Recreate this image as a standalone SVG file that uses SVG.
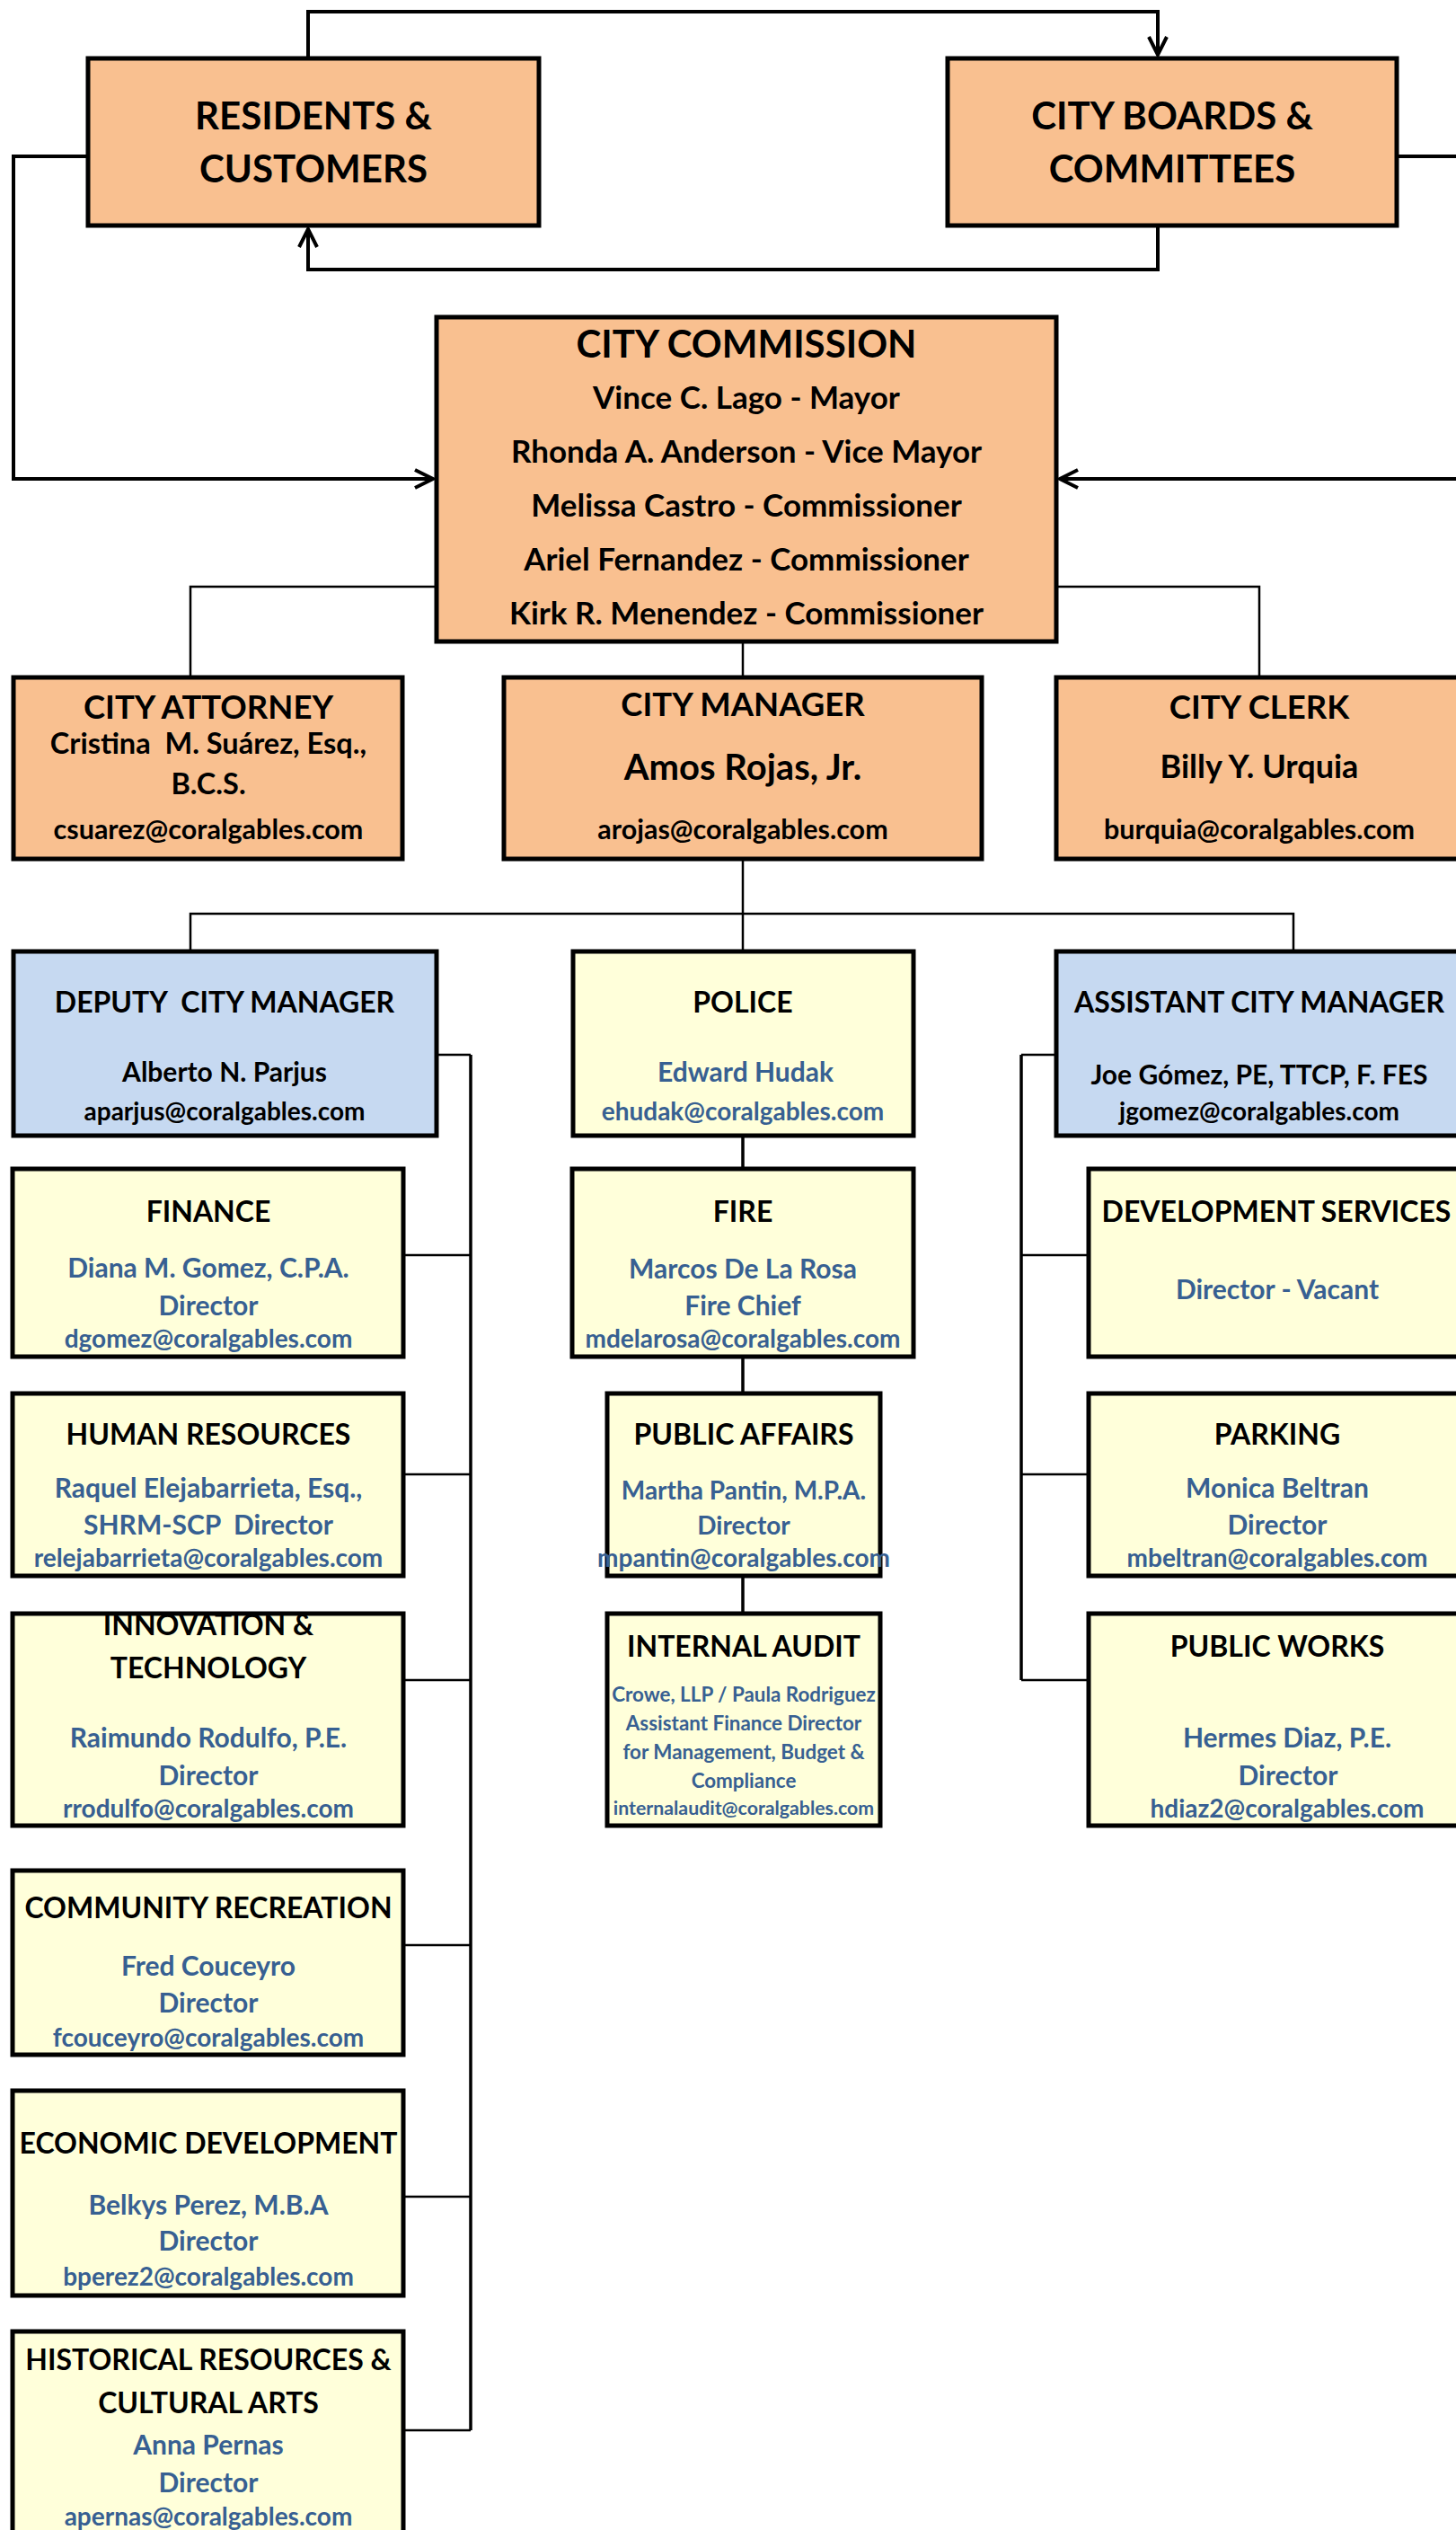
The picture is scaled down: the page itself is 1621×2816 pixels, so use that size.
<svg xmlns="http://www.w3.org/2000/svg" width="1621" height="2816" viewBox="0 0 1621 2816">
<style>
.box{stroke:#000;stroke-width:5}
.o{fill:#F9C090}.b{fill:#C6D9F1}.y{fill:#FFFFDA}
text{font-family:Lato,Carlito,"Liberation Sans",sans-serif;font-weight:bold;text-anchor:middle;fill:#000;white-space:pre}
.u{fill:#376092}
.con{fill:none;stroke:#000;stroke-width:2.5}
.br{fill:none;stroke:#000;stroke-width:3.5}
.arr{fill:none;stroke:#000;stroke-width:4}
.t1{font-size:42px}.t2{font-size:42px}.t3{font-size:35px}.t4{font-size:36.5px}.t5{font-size:32.5px}.t6{font-size:30.5px}.t7{font-size:40px}.t8{font-size:36px}
.h{font-size:32px}.n{font-size:30px}.n2{font-size:28px}.e{font-size:28px}.s{font-size:22.4px}.se{font-size:21.3px}
.d1{font-size:32px}.d2{font-size:30px}.d3{font-size:28px}
</style>
<defs>
<marker id="ah" markerUnits="userSpaceOnUse" viewBox="0 0 24 24" refX="22" refY="12" markerWidth="24" markerHeight="24" orient="auto">
<path d="M2,2 L22,12 L2,22" fill="none" stroke="#000" stroke-width="4"/>
</marker>
<clipPath id="clipInno"><rect x="14" y="1796" width="435" height="236"/></clipPath>
</defs>

<g id="connectors">
<path class="arr" d="M343,64 V13 H1289 V61" marker-end="url(#ah)"/>
<path class="arr" d="M1289,251 V300 H343 V255" marker-end="url(#ah)"/>
<path class="arr" d="M98,174 H15 V533 H482" marker-end="url(#ah)"/>
<path class="arr" d="M1555,174 H1650 V533 H1180" marker-end="url(#ah)"/>
<path class="con" d="M486,653 H212 V754"/>
<path class="con" d="M1176,653 H1402 V754"/>
<path class="con" d="M827,714 V754"/>
<path class="con" d="M827,956 V1059"/>
<path class="con" d="M212,1059 V1017 H1440 V1059"/>
<path class="br" d="M827,1264 V1301 M827,1510 V1551 M827,1754 V1796"/>
<path class="con" d="M486,1174 H524"/>
<path class="br" d="M524,1174 V2705"/>
<path class="con" d="M449,1397 H524 M449,1641 H524 M449,1870 H524 M449,2165 H524 M449,2445 H524 M449,2705 H524"/>
<path class="con" d="M1176,1174 H1137"/>
<path class="br" d="M1137,1174 V1870"/>
<path class="con" d="M1137,1397 H1212 M1137,1641 H1212 M1137,1870 H1212"/>
</g>

<g id="residents">
<rect class="box o" x="98" y="65" width="502" height="186"/>
<text class="t1" x="349" y="144">RESIDENTS &amp;</text>
<text class="t1" x="349" y="203">CUSTOMERS</text>
</g>
<g id="boards">
<rect class="box o" x="1055" y="65" width="500" height="186"/>
<text class="t1" x="1305" y="144">CITY BOARDS &amp;</text>
<text class="t1" x="1305" y="203">COMMITTEES</text>
</g>

<g id="commission">
<rect class="box o" x="486" y="353" width="690" height="361"/>
<text class="t2" x="831" y="398">CITY COMMISSION</text>
<text class="t3" x="831" y="455">Vince C. Lago - Mayor</text>
<text class="t3" x="831" y="515">Rhonda A. Anderson - Vice Mayor</text>
<text class="t3" x="831" y="575">Melissa Castro - Commissioner</text>
<text class="t3" x="831" y="635">Ariel Fernandez - Commissioner</text>
<text class="t3" x="831" y="695">Kirk R. Menendez - Commissioner</text>
</g>

<g id="attorney">
<rect class="box o" x="15" y="754" width="433" height="202"/>
<text class="t4" x="232" y="800">CITY ATTORNEY</text>
<text class="t5" x="232" y="839">Cristina  M. Suárez, Esq.,</text>
<text class="t5" x="232" y="884">B.C.S.</text>
<text class="t6" x="232" y="934">csuarez@coralgables.com</text>
</g>
<g id="manager">
<rect class="box o" x="561" y="754" width="532" height="202"/>
<text class="t4" x="827" y="797">CITY MANAGER</text>
<text class="t7" x="827" y="868">Amos Rojas, Jr.</text>
<text class="t6" x="827" y="934">arojas@coralgables.com</text>
</g>
<g id="clerk">
<rect class="box o" x="1176" y="754" width="480" height="202"/>
<text class="t4" x="1402" y="800">CITY CLERK</text>
<text class="t8" x="1402" y="866">Billy Y. Urquia</text>
<text class="t6" x="1402" y="934">burquia@coralgables.com</text>
</g>

<g id="deputy">
<rect class="box b" x="15" y="1059" width="471" height="205"/>
<text class="d1" x="250" y="1127">DEPUTY  CITY MANAGER</text>
<text class="d2" x="250" y="1204">Alberto N. Parjus</text>
<text class="d3" x="250" y="1247">aparjus@coralgables.com</text>
</g>
<g id="police">
<rect class="box y" x="638" y="1059" width="379" height="205"/>
<text class="d1" x="827" y="1127">POLICE</text>
<text class="d2 u" x="830" y="1204">Edward Hudak</text>
<text class="d3 u" x="827" y="1247">ehudak@coralgables.com</text>
</g>
<g id="assistant">
<rect class="box b" x="1176" y="1059" width="480" height="205"/>
<text class="d1" x="1402" y="1127">ASSISTANT CITY MANAGER</text>
<text class="d2" x="1402" y="1207">Joe Gómez, PE, TTCP, F. FES</text>
<text class="d3" x="1402" y="1247">jgomez@coralgables.com</text>
</g>

<g id="finance">
<rect class="box y" x="14" y="1301" width="435" height="209"/>
<text class="h" x="232" y="1360">FINANCE</text>
<text class="n u" x="232" y="1422">Diana M. Gomez, C.P.A.</text>
<text class="n u" x="232" y="1464">Director</text>
<text class="e u" x="232" y="1500">dgomez@coralgables.com</text>
</g>
<g id="hr">
<rect class="box y" x="14" y="1551" width="435" height="203"/>
<text class="h" x="232" y="1608">HUMAN RESOURCES</text>
<text class="n u" x="232" y="1667">Raquel Elejabarrieta, Esq.,</text>
<text class="n u" x="232" y="1708">SHRM-SCP  Director</text>
<text class="e u" x="232" y="1744">relejabarrieta@coralgables.com</text>
</g>
<g id="innovation">
<rect class="y" x="14" y="1796" width="435" height="236"/>
<g clip-path="url(#clipInno)">
<text class="h" x="232" y="1820">INNOVATION &amp;</text>
</g>
<rect class="box" fill="none" x="14" y="1796" width="435" height="236"/>
<text class="h" x="232" y="1868">TECHNOLOGY</text>
<text class="n u" x="232" y="1945">Raimundo Rodulfo, P.E.</text>
<text class="n u" x="232" y="1987">Director</text>
<text class="e u" x="232" y="2023">rrodulfo@coralgables.com</text>
</g>
<g id="community">
<rect class="box y" x="14" y="2082" width="435" height="205"/>
<text class="h" x="232" y="2135">COMMUNITY RECREATION</text>
<text class="n u" x="232" y="2199">Fred Couceyro</text>
<text class="n u" x="232" y="2240">Director</text>
<text class="e u" x="232" y="2278">fcouceyro@coralgables.com</text>
</g>
<g id="economic">
<rect class="box y" x="14" y="2327" width="435" height="228"/>
<text class="h" x="232" y="2397">ECONOMIC DEVELOPMENT</text>
<text class="n u" x="232" y="2465">Belkys Perez, M.B.A</text>
<text class="n u" x="232" y="2505">Director</text>
<text class="e u" x="232" y="2544">bperez2@coralgables.com</text>
</g>
<g id="historical">
<rect class="box y" x="14" y="2595" width="435" height="240"/>
<text class="h" x="232" y="2638">HISTORICAL RESOURCES &amp;</text>
<text class="h" x="232" y="2686">CULTURAL ARTS</text>
<text class="n u" x="232" y="2732">Anna Pernas</text>
<text class="n u" x="232" y="2774">Director</text>
<text class="e u" x="232" y="2811">apernas@coralgables.com</text>
</g>

<g id="fire">
<rect class="box y" x="637" y="1301" width="380" height="209"/>
<text class="h" x="827" y="1360">FIRE</text>
<text class="n u" x="827" y="1423">Marcos De La Rosa</text>
<text class="n u" x="827" y="1464">Fire Chief</text>
<text class="e u" x="827" y="1500">mdelarosa@coralgables.com</text>
</g>
<g id="publicaffairs">
<rect class="box y" x="676" y="1551" width="304" height="203"/>
<text class="h" x="828" y="1608">PUBLIC AFFAIRS</text>
<text class="n2 u" x="828" y="1669">Martha Pantin, M.P.A.</text>
<text class="n2 u" x="828" y="1708">Director</text>
<text class="e u" x="828" y="1744">mpantin@coralgables.com</text>
</g>
<g id="internalaudit">
<rect class="box y" x="676" y="1796" width="304" height="236"/>
<text class="h" x="828" y="1844">INTERNAL AUDIT</text>
<text class="s u" x="828" y="1894">Crowe, LLP / Paula Rodriguez</text>
<text class="s u" x="828" y="1926">Assistant Finance Director</text>
<text class="s u" x="828" y="1958">for Management, Budget &amp;</text>
<text class="s u" x="828" y="1990">Compliance</text>
<text class="se u" x="828" y="2020">internalaudit@coralgables.com</text>
</g>

<g id="devservices">
<rect class="box y" x="1212" y="1301" width="450" height="209"/>
<text class="h" x="1421" y="1360">DEVELOPMENT SERVICES</text>
<text class="n u" x="1422" y="1446">Director - Vacant</text>
</g>
<g id="parking">
<rect class="box y" x="1212" y="1551" width="450" height="203"/>
<text class="h" x="1422" y="1608">PARKING</text>
<text class="n u" x="1422" y="1667">Monica Beltran</text>
<text class="n u" x="1422" y="1708">Director</text>
<text class="e u" x="1422" y="1744">mbeltran@coralgables.com</text>
</g>
<g id="publicworks">
<rect class="box y" x="1212" y="1796" width="450" height="236"/>
<text class="h" x="1422" y="1844">PUBLIC WORKS</text>
<text class="n u" x="1433" y="1945">Hermes Diaz, P.E.</text>
<text class="n u" x="1434" y="1987">Director</text>
<text class="e u" x="1433" y="2023">hdiaz2@coralgables.com</text>
</g>
</svg>
